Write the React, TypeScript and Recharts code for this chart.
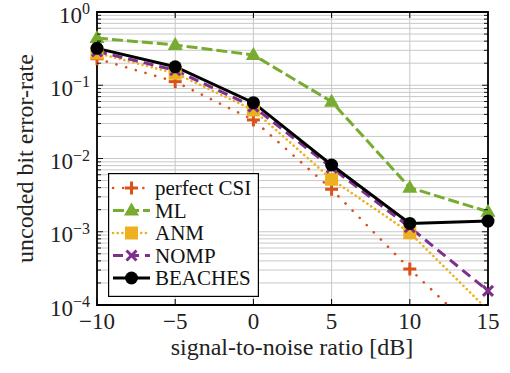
import React from 'react';
import { LineChart, Line, XAxis, YAxis, CartesianGrid, Legend, ReferenceArea } from 'recharts';

// ---- data ----
const snr = [-10, -5, 0, 5, 10, 15];
const perfectCSI = [0.23, 0.112, 0.0336, 0.0038, 0.00031, 0.00003];
const ml = [0.44, 0.355, 0.259, 0.0597, 0.004, 0.00188];
const anm = [0.275, 0.146, 0.046, 0.0052, 0.00097, 0.000085];
const nomp = [0.29, 0.16, 0.051, 0.0075, 0.00115, 0.000156];
const beaches = [0.319, 0.179, 0.0578, 0.00815, 0.0013, 0.0014];

const xTicks = [-10, -5, 0, 5, 10, 15];
const yDecades = [-4, -3, -2, -1, 0];
const yMinorMultipliers = [2, 3, 4, 5, 6, 7, 8, 9];

const seriesNames = ['perfect CSI', 'ML', 'ANM', 'NOMP', 'BEACHES'];
const seriesKeys = ['perfect', 'ml', 'anm', 'nomp', 'beaches'];

const data = snr.map((s, i) => ({
  snr: s,
  perfect: perfectCSI[i],
  ml: ml[i],
  anm: anm[i],
  nomp: nomp[i],
  beaches: beaches[i],
}));

const yTicks: number[] = [];
yDecades.forEach((d) => {
  yTicks.push(Math.pow(10, d));
  if (d < 0) yMinorMultipliers.forEach((m) => yTicks.push(m * Math.pow(10, d)));
});
yTicks.sort((a, b) => a - b);

// ---- styles ----
const FONT = "'Liberation Serif', 'Times New Roman', serif";
const PL = 97, PR = 488, PT = 12, PB = 305;
const Y_MIN = 1e-4, Y_MAX = 1;

type Style = { color: string; dash?: string; width: number; cap?: 'round' | 'butt'; marker: string };
const styles: Style[] = [
  { color: '#D95319', dash: '0.1 10', width: 2.6, cap: 'round', marker: 'plus' },
  { color: '#77AC30', dash: '11 4', width: 3, marker: 'triangle' },
  { color: '#EDB120', dash: '0.1 4.6', width: 2.6, cap: 'round', marker: 'square' },
  { color: '#7E2F8E', dash: '10 6', width: 3, marker: 'cross' },
  { color: '#000000', width: 3, marker: 'circle' },
];

function Marker({ cx, cy, type, color }: { cx: number; cy: number; type: string; color: string }) {
  if (cx == null || cy == null || isNaN(cx) || isNaN(cy)) return null;
  switch (type) {
    case 'plus':
      return (
        <g stroke={color} strokeWidth={3}>
          <line x1={cx - 6.5} x2={cx + 6.5} y1={cy} y2={cy} />
          <line x1={cx} x2={cx} y1={cy - 6.5} y2={cy + 6.5} />
        </g>
      );
    case 'triangle':
      return <polygon points={`${cx},${cy - 8} ${cx - 7.5},${cy + 5} ${cx + 7.5},${cy + 5}`} fill={color} />;
    case 'square':
      return <rect x={cx - 6.5} y={cy - 6.5} width={13} height={13} fill={color} />;
    case 'cross':
      return (
        <g stroke={color} strokeWidth={3}>
          <line x1={cx - 5} x2={cx + 5} y1={cy - 5} y2={cy + 5} />
          <line x1={cx - 5} x2={cx + 5} y1={cy + 5} y2={cy - 5} />
        </g>
      );
    default:
      return <circle cx={cx} cy={cy} r={6.5} fill={color} />;
  }
}

const fmtNum = (v: number) => (v < 0 ? '\u2212' + Math.abs(v) : String(v));

function XTick(props: any) {
  const { x, payload } = props;
  return (
    <g>
      <line x1={x} x2={x} y1={PB} y2={PB - 6} stroke="#000" strokeWidth={1} />
      <line x1={x} x2={x} y1={PT} y2={PT + 6} stroke="#000" strokeWidth={1} />
      <text x={x} y={329} textAnchor="middle" fontSize={23} fontFamily={FONT} fill="#222">
        {fmtNum(payload.value)}
      </text>
    </g>
  );
}

function YTick(props: any) {
  const { y, payload } = props;
  const v: number = payload.value;
  const exp = Math.round(Math.log10(v));
  const major = Math.abs(v / Math.pow(10, exp) - 1) < 1e-6;
  const len = major ? 6 : 4;
  return (
    <g>
      <line x1={PL} x2={PL + len} y1={y} y2={y} stroke="#000" strokeWidth={0.9} />
      <line x1={PR - len} x2={PR} y1={y} y2={y} stroke="#000" strokeWidth={0.9} />
      {major && (
        <text x={90} y={y + 10.5} textAnchor="end" fontSize={23} fontFamily={FONT} fill="#222">
          10
          <tspan dy={-8.5} fontSize={16}>
            {fmtNum(exp)}
          </tspan>
        </text>
      )}
    </g>
  );
}

function LegendBox() {
  const rowH = 22.5;
  return (
    <svg width={151} height={124} style={{ display: 'block' }}>
      <rect x={0.6} y={0.6} width={149.8} height={122.8} fill="#fff" stroke="#000" strokeWidth={1.2} />
      {seriesNames.map((name, i) => {
        const st = styles[i];
        const cy = 15 + i * rowH;
        return (
          <g key={name}>
            <line
              x1={5}
              x2={42}
              y1={cy}
              y2={cy}
              stroke={st.color}
              strokeWidth={st.width}
              strokeDasharray={st.dash}
              strokeLinecap={st.cap || 'butt'}
            />
            <Marker cx={23.5} cy={cy} type={st.marker} color={st.color} />
            <text x={47} y={cy + 7} fontSize={21} fontFamily={FONT} fill="#111">
              {name}
            </text>
          </g>
        );
      })}
    </svg>
  );
}

const inRange = (v: number) => (v >= Y_MIN && v <= Y_MAX ? v : null);

export default function App() {
  return (
    <div style={{ position: 'absolute', left: 0, top: 0, width: 510, height: 373, background: '#fff' }}>
      <LineChart width={510} height={373} data={data} margin={{ top: PT, right: 510 - PR, left: 0, bottom: 0 }}>
        <CartesianGrid yAxisId="y" stroke="#c8c8c8" strokeWidth={1} />
        <XAxis
          dataKey="snr"
          type="number"
          domain={[-10, 15]}
          ticks={xTicks}
          interval={0}
          height={373 - PB}
          tickLine={false}
          axisLine={false}
          tick={(p: any) => <XTick {...p} />}
          label={{
            content: () => (
              <text x={292} y={355} textAnchor="middle" fontSize={24} fontFamily={FONT} fill="#222">
                signal-to-noise ratio [dB]
              </text>
            ),
          }}
        />
        <YAxis
          yAxisId="y"
          type="number"
          scale="log"
          domain={[Y_MIN, Y_MAX]}
          allowDataOverflow
          ticks={yTicks}
          interval={0}
          width={PL}
          tickLine={false}
          axisLine={false}
          tick={(p: any) => <YTick {...p} />}
          label={{
            content: () => (
              <text
                transform={`translate(33, ${(PT + PB) / 2}) rotate(-90)`}
                textAnchor="middle"
                fontSize={24}
                fontFamily={FONT}
                fill="#222"
              >
                uncoded bit error-rate
              </text>
            ),
          }}
        />
        <YAxis yAxisId="m" hide type="number" scale="log" domain={[Y_MIN, Y_MAX]} />
        <ReferenceArea
          yAxisId="y"
          x1={-10}
          x2={15}
          y1={Y_MIN}
          y2={Y_MAX}
          fill="none"
          fillOpacity={0}
          stroke="#000"
          strokeWidth={1.8}
        />
        {seriesKeys.flatMap((key, i) => {
          const st = styles[i];
          return [
            <Line
              key={key + '-line'}
              yAxisId="y"
              type="linear"
              dataKey={key}
              stroke={st.color}
              strokeWidth={st.width}
              strokeDasharray={st.dash}
              strokeLinecap={st.cap || 'butt'}
              dot={false}
              activeDot={false}
              legendType="none"
              isAnimationActive={false}
            />,
            <Line
              key={key + '-marks'}
              yAxisId="m"
              type="linear"
              dataKey={(d: any) => inRange(d[key])}
              stroke="none"
              dot={(p: any) => <Marker key={`${key}-${p.index}`} cx={p.cx} cy={p.cy} type={st.marker} color={st.color} />}
              activeDot={false}
              legendType="none"
              isAnimationActive={false}
            />,
          ];
        })}
        <Legend
          layout="vertical"
          align="center"
          verticalAlign="middle"
          content={() => <LegendBox />}
          wrapperStyle={{ left: 108, top: 173, width: 151, height: 124, margin: 0, padding: 0 }}
        />
      </LineChart>
    </div>
  );
}
